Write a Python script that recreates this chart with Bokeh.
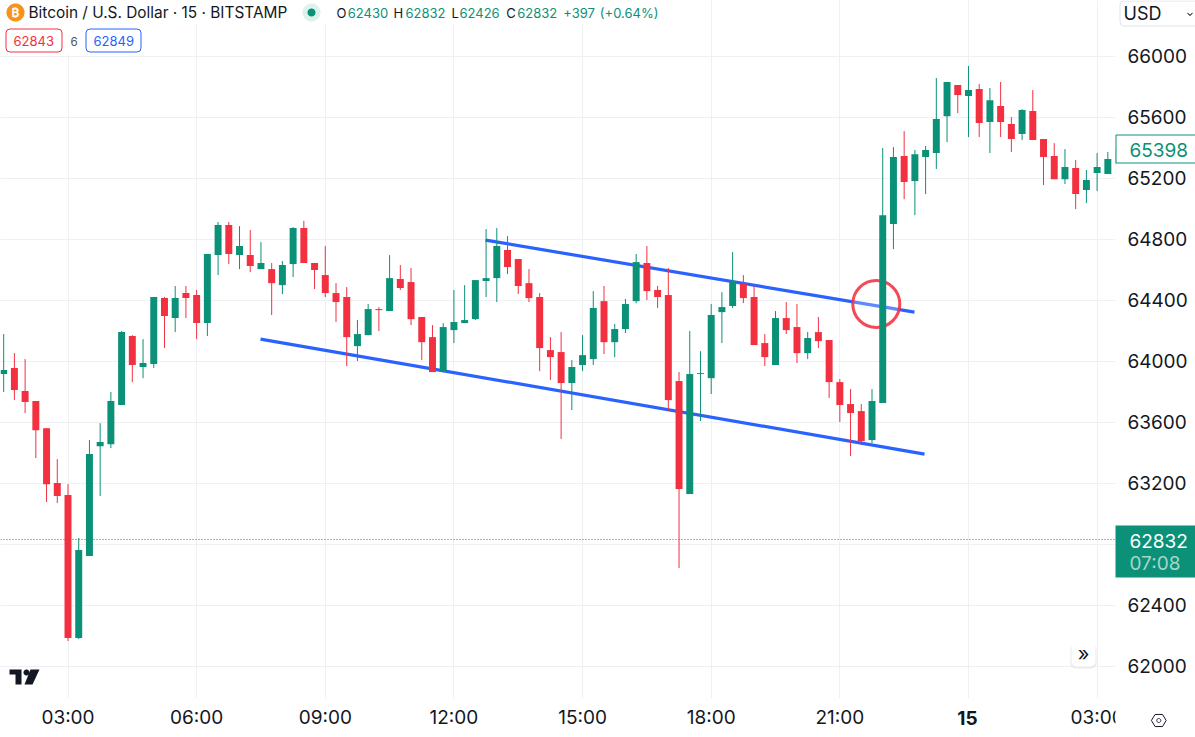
import numpy as np
from bokeh.embed import file_html
from bokeh.layouts import column
from bokeh.models import (BoxAnnotation, ColumnDataSource, FixedTicker, Label, PolyAnnotation,
                          Range1d)
from bokeh.plotting import figure
from bokeh.resources import INLINE

# 15 min candles, bar 0 is the 03:00 candle
first_bar = -6
opens = [63917, 63956, 63805, 63740, 63562, 63202, 63123, 62186, 62724, 63444, 63457, 63714, 64166, 63963, 63982,
         64415, 64284, 64448, 64435, 64251, 64697, 64894, 64697, 64697, 64605, 64605, 64500, 64638, 64874, 64645,
         64566, 64448, 64422, 64100, 64172, 64343, 64330, 64540, 64520, 64291, 64159, 63930, 64205, 64251, 64277,
         64527, 64546, 64730, 64671, 64513, 64422, 64074, 64061, 63858, 63976, 64015, 64395, 64126, 64212, 64395,
         64645, 64468, 64435, 63871, 63130, 63917, 63890, 64323, 64363, 64507, 64422, 64120, 63976, 64284, 64225,
         64054, 64192, 64140, 63864, 63720, 63674, 63484, 63727, 64901, 65346, 65182, 65340, 65366, 65608, 65812,
         65740, 65786, 65569, 65674, 65556, 65491, 65641, 65458, 65346, 65195, 65268, 65123, 65235, 65228, 65287]
highs = [64179, 64054, 64015, 63740, 63562, 63359, 63195, 62842, 63484, 63595, 63799, 64199, 64172, 64146, 64422,
         64422, 64494, 64494, 64468, 64704, 64914, 64914, 64887, 64861, 64782, 64645, 64658, 64881, 64921, 64645,
         64756, 64513, 64487, 64271, 64376, 64356, 64697, 64632, 64612, 64291, 64238, 64251, 64468, 64500, 64533,
         64868, 64874, 64822, 64671, 64605, 64448, 64159, 64192, 64008, 64172, 64461, 64494, 64245, 64409, 64704,
         64756, 64494, 64612, 63930, 64199, 64067, 64376, 64454, 64717, 64566, 64500, 64179, 64330, 64389, 64376,
         64192, 64291, 64140, 63884, 63818, 63720, 63818, 65399, 65405, 65510, 65386, 65412, 65858, 65832, 65812,
         65937, 65819, 65792, 65832, 65602, 65654, 65779, 65458, 65431, 65392, 65320, 65255, 65366, 65373, 65399]
lows = [63799, 63746, 63661, 63366, 63078, 63071, 62166, 62179, 62724, 63117, 63431, 63714, 63864, 63890, 63956,
        64087, 64192, 64284, 64146, 64166, 64566, 64638, 64605, 64585, 64605, 64304, 64441, 64553, 64645, 64474,
        64422, 64258, 63969, 64002, 64172, 64199, 64330, 64468, 64238, 64008, 63930, 63930, 64120, 64251, 64271,
        64422, 64389, 64572, 64441, 64389, 63936, 63877, 63491, 63681, 63936, 63976, 64048, 64028, 64186, 64382,
        64402, 64350, 63674, 62645, 63130, 63609, 63786, 64120, 64350, 64382, 64107, 63969, 63976, 64179, 63989,
        64015, 64087, 63760, 63602, 63379, 63451, 63464, 63727, 64736, 65064, 64959, 65097, 65261, 65438, 65628,
        65471, 65471, 65366, 65471, 65373, 65451, 65451, 65156, 65195, 65163, 64999, 65038, 65117, 65228, 65287]
closes = [63943, 63812, 63733, 63549, 63195, 63117, 62186, 62763, 63392, 63471, 63740, 64192, 63976, 63989, 64422,
          64297, 64415, 64415, 64251, 64704, 64894, 64704, 64756, 64625, 64645, 64513, 64632, 64874, 64645, 64599,
          64448, 64389, 64159, 64179, 64343, 64336, 64546, 64481, 64277, 64126, 63930, 64225, 64258, 64271, 64533,
          64546, 64756, 64619, 64494, 64415, 64087, 64028, 63858, 63963, 64041, 64350, 64126, 64212, 64376, 64651,
          64461, 64422, 63746, 63163, 63917, 63923, 64304, 64356, 64527, 64415, 64107, 64028, 64284, 64205, 64054,
          64153, 64133, 63864, 63714, 63661, 63477, 63740, 64959, 65340, 65176, 65359, 65386, 65589, 65832, 65746,
          65779, 65563, 65713, 65569, 65458, 65648, 65451, 65340, 65195, 65274, 65097, 65189, 65274, 65327, 65399]

price_ticks = [62000, 62400, 62800, 63200, 63600, 64000, 64400, 64800, 65200, 65600, 66000]
time_ticks = [0, 12, 24, 36, 48, 60, 72, 84, 96]
time_labels = ["03:00", "06:00", "09:00", "12:00", "15:00", "18:00", "21:00", "", "03:00"]

upper_line_bars = [38.95, 78.96]
upper_line_prices = [64795, 64323]
lower_line_bars = [17.96, 79.9]
lower_line_prices = [64146, 63392]
circle_bar = [75.4]
circle_price = [64376]
last_price = 62832

GREEN = "#0b9177"
RED = "#f23040"
BLUE = "#2962ff"
INK = "#131722"
FONT = "Inter"

BAR_PX = 10.72
BAR0_PX = 67.5
PRICE_PX = 61 / 400
FRAME_W, FRAME_H = 1115, 698
TOP_PRICE = 66366.4

x_range = Range1d(-BAR0_PX / BAR_PX, (FRAME_W - BAR0_PX) / BAR_PX)
p = figure(width=1195, height=737, output_backend="svg", toolbar_location=None,
           y_axis_location="right",
           min_border_left=0, min_border_top=0, min_border_right=1195 - FRAME_W,
           min_border_bottom=737 - FRAME_H,
           x_range=x_range,
           y_range=Range1d(TOP_PRICE - FRAME_H / PRICE_PX, TOP_PRICE))
p.outline_line_color = None
p.background_fill_color = "white"
p.border_fill_color = "white"

p.xaxis.ticker = FixedTicker(ticks=time_ticks)
p.xaxis.major_label_overrides = dict(zip(time_ticks, time_labels))
p.yaxis.ticker = FixedTicker(ticks=price_ticks)
for ax in (p.xaxis[0], p.yaxis[0]):
    ax.axis_line_color = None
    ax.major_tick_line_color = None
    ax.minor_tick_line_color = None
    ax.major_label_text_font = FONT
    ax.major_label_text_font_size = "19px"
    ax.major_label_text_color = INK
p.xaxis.major_label_standoff = 1
p.yaxis.major_label_standoff = 6
p.grid.grid_line_color = "#eff0f3"
p.grid.grid_line_width = 1

# last price line, trend lines and the marked breakout go under the candles
p.line([x_range.start, x_range.end], [last_price, last_price], line_color=GREEN, line_width=1, line_dash="1 2")
p.line(upper_line_bars, upper_line_prices, line_color=BLUE, line_width=3.2)
p.line(lower_line_bars, lower_line_prices, line_color=BLUE, line_width=3.2)
p.scatter(circle_bar, circle_price, marker="circle", size=47, line_color=RED, line_width=3, line_alpha=0.88,
          fill_color="white", fill_alpha=0.25)

bars = list(range(first_bar, first_bar + len(opens)))
colors = [GREEN if c >= o else RED for o, c in zip(opens, closes)]
source = ColumnDataSource(data=dict(bar=bars, open=opens, high=highs, low=lows, close=closes, color=colors))
p.segment("bar", "high", "bar", "low", source=source, line_color="color", line_width=1)
p.vbar("bar", 0.65, "open", "close", source=source, fill_color="color", line_color=None)

# annotations get clipped to the frame, so the panes and legend sit on a see-through figure on top
top = figure(frame_width=1195, frame_height=737, output_backend="svg", toolbar_location=None,
             x_axis_location=None, y_axis_location=None, min_border=0, min_border_left=0, min_border_right=0,
             min_border_top=0, min_border_bottom=0, margin=(-737, 0, 0, 0),
             x_range=Range1d(0, 1195), y_range=Range1d(737, 0))
top.grid.visible = False
top.outline_line_color = None
top.background_fill_alpha = 0
top.border_fill_alpha = 0


def text(x, y, s, color=INK, size=13, style="normal", align="left"):
    top.add_layout(Label(x=x, y=y, x_units="canvas", y_units="canvas", text=s, text_color=color,
                         text_font=FONT, text_font_size=f"{size}px", text_font_style=style,
                         text_align=align, text_baseline="middle"))


def box(left, up, right, bottom, fill="white", line=None, radius=0, width=1):
    top.add_layout(BoxAnnotation(left=left, right=right, top=up, bottom=bottom, left_units="canvas",
                                 right_units="canvas", top_units="canvas", bottom_units="canvas",
                                 fill_color=fill, fill_alpha=1, line_color=line, line_width=width,
                                 line_alpha=1 if line else 0, border_radius=radius))


def poly(xs, ys, fill=None, line=None, width=1):
    top.add_layout(PolyAnnotation(xs=list(xs), ys=list(ys), xs_units="canvas", ys_units="canvas",
                                  fill_color=fill, fill_alpha=1 if fill else 0, line_color=line,
                                  line_alpha=1 if line else 0, line_width=width))


def disc(cx, cy, r, fill=None, line=None, width=1):
    a = np.linspace(0, 2 * np.pi, 48, endpoint=False)
    poly(cx + r * np.cos(a), cy + r * np.sin(a), fill, line, width)


# legend rows hide the grid behind them
box(0, 0, 660, 24)
box(0, 24, 146, 54)
disc(15, 12, 9, fill="#f7931a")
text(15, 12, "₿", color="white", size=12, style="bold", align="center")
text(28, 12, "Bitcoin / U.S. Dollar · 15 · BITSTAMP", size=15.4)
disc(311, 12, 9, fill="#dff1ed")
disc(311, 12, 4, fill=GREEN)
for x, s, color in [(336, "O", INK), (347.3, "62430", GREEN), (393, "H", INK), (405, "62832", GREEN),
                    (451, "L", INK), (459, "62426", GREEN), (505.7, "C", INK), (516.7, "62832", GREEN),
                    (562.7, "+397", GREEN), (599.3, "(+0.64%)", GREEN)]:
    text(x, 12.5, s, color, 13)
box(5.5, 28.5, 61.5, 51.5, line=RED, radius=4)
text(13, 40.5, "62843", RED, 13)
text(70, 41, "6", "#50535e", 11.5)
box(85.5, 28.5, 140.5, 51.5, line=BLUE, radius=4)
text(93, 40.5, "62849", BLUE, 13)

# logo
poly([9, 21, 21, 15, 15, 9], [669, 669, 684, 684, 674, 674], fill=INK)
disc(26, 672, 3, fill=INK)
poly([30, 39, 32, 24], [669, 669, 684, 684], fill=INK)

# price and time panes cover whatever runs past the chart
box(FRAME_W, FRAME_H, 1195, 737)
box(1070, 644, 1096, 668, fill="#e9eaee", radius=5)
box(1071, 642, 1095, 666, radius=5)
text(1083, 653.5, "»", INK, 20, align="center")
text(967, 717.5, "15", INK, 19, style="bold", align="center")

box(1119.5, 0.5, 1200, 25.5, line="#e0e3eb", radius=4)
text(1123, 13, "USD", INK, 18)
poly([1187, 1189.5, 1192, 1192, 1189.5, 1187], [12, 14.2, 12, 13.2, 15.4, 13.2], fill=INK)

box(FRAME_W + 0.5, 134.5, 1200, 162.5, line=GREEN, width=1)
text(1129, 149, "65398", GREEN, 19)
box(FRAME_W, 525, 1195, 577, fill=GREEN)
text(1129, 540, "62832", "white", 19)
text(1129, 563, "07:08", "#a5d6ca", 19)

hex_a = np.deg2rad(np.arange(0, 360, 60))
poly(1158.3 + 7.4 * np.cos(hex_a), 720 + 7 * np.sin(hex_a), line=INK, width=1)
disc(1158.3, 720, 2, line=INK, width=1)

open("out.html", "w").write(file_html(column(p, top), INLINE))
